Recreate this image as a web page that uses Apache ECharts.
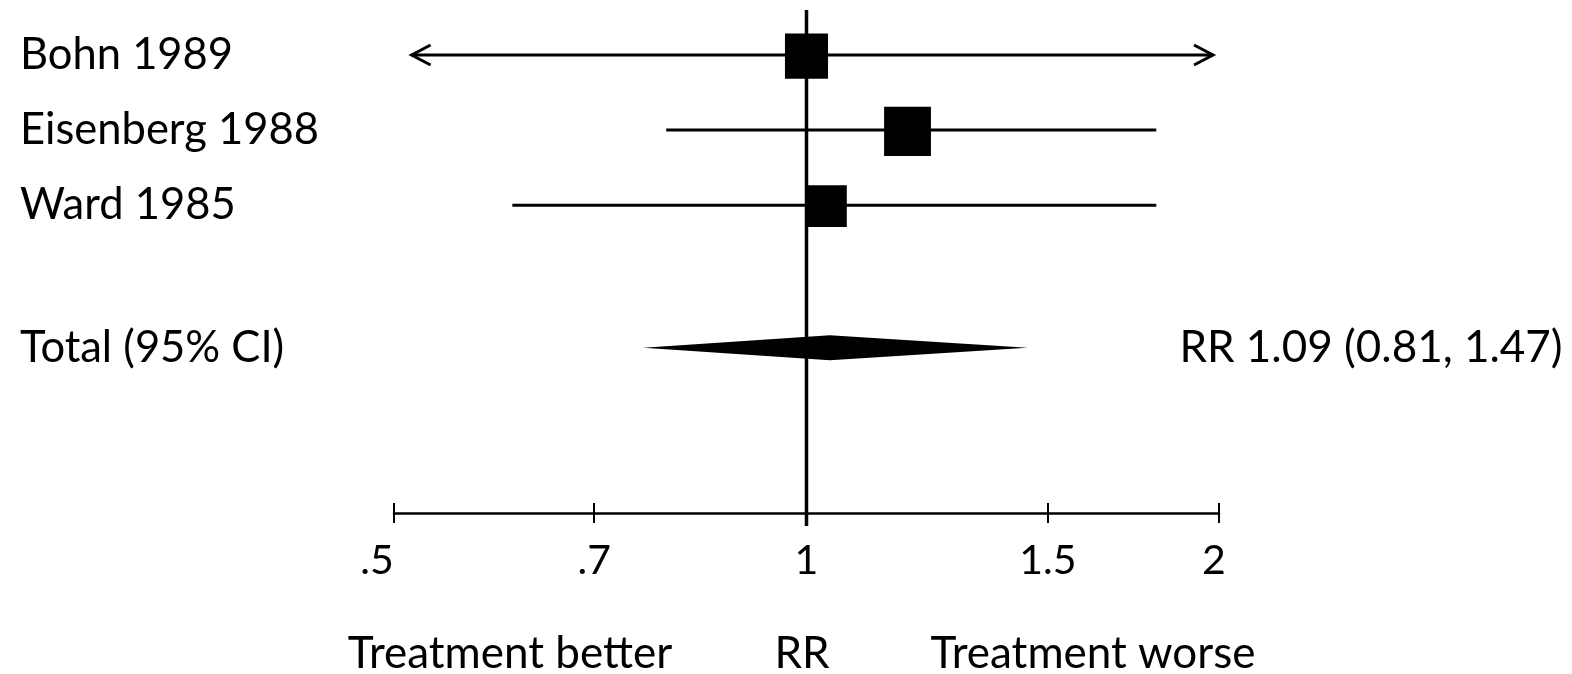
<!DOCTYPE html>
<html>
<head>
<meta charset="utf-8">
<script src="https://cdn.jsdelivr.net/npm/echarts@6/dist/echarts.min.js"></script>
<style>
  html, body { margin: 0; padding: 0; background: #fff; }
  #chart { width: 1572px; height: 674px; }
</style>
</head>
<body>
<div id="chart"></div>
<script>
// ---- data ----
const studies = ['Bohn 1989', 'Eisenberg 1988', 'Ward 1985'];
const studyRR = [1.00, 1.185, 1.035];
const studyLow = [0.515, 0.79, 0.61];
const studyHigh = [1.98, 1.80, 1.80];
const studyArrow = [true, false, false];   // CI runs off the scale
const studyWeight = [33, 39, 28];          // % weight (square area)

const totalName = 'Total (95% CI)';
const totalRR = [1.04];
const totalLow = [0.76];
const totalHigh = [1.45];
const totalText = 'RR 1.09 (0.81, 1.47)';

const tickValues = [0.5, 0.7, 1, 1.5, 2];
const tickLabels = ['.5', '.7', '1', '1.5', '2'];
const footLabels = ['Treatment better', 'RR', 'Treatment worse'];

// ---- layout helpers ----
const FONT = 'Lato';
const ln = Math.log;
const xMin = ln(0.5), xMax = ln(2);
const yMin = -0.6, yMax = 6.1;
const totalRow = 3.9;
const rowPos = studies.map((s, i) => i);
const allRowPos = rowPos.concat([totalRow]);
const allRowNames = studies.concat([totalName]);
const lnTicks = tickValues.map(ln);
// small horizontal nudges of tick labels (px, negative = left), as placed in the reference
const tickNudge = [-17, 0, 0, 0, -5];

function nearestIdx(arr, v) {
  let best = 0, d = Infinity;
  arr.forEach((a, i) => { const dd = Math.abs(a - v); if (dd < d) { d = dd; best = i; } });
  return best;
}

const tickRich = {};
tickNudge.forEach((n, i) => {
  tickRich['t' + i] = {
    fontFamily: FONT, fontSize: 41, color: '#000',
    padding: n < 0 ? [0, -2 * n, 0, 0] : [0, 0, 0, 2 * n]
  };
});

const studyData = studies.map((s, i) => [ln(studyLow[i]), ln(studyHigh[i]), ln(studyRR[i]), rowPos[i], studyWeight[i], studyArrow[i] ? 1 : 0]);
const totalData = totalRR.map((v, i) => [ln(totalLow[i]), ln(v), ln(totalHigh[i]), totalRow]);

const chart = echarts.init(document.getElementById('chart'), null, { renderer: 'canvas' });

const option = {
  animation: false,
  backgroundColor: '#ffffff',
  textStyle: { fontFamily: FONT, color: '#000' },
  grid: { left: 394, right: 353, top: 10, bottom: 161, containLabel: false },
  xAxis: [
    {
      type: 'value', min: xMin, max: xMax, position: 'bottom',
      axisLine: { show: true, onZero: false, lineStyle: { color: '#000', width: 2.5 } },
      axisTick: { show: true, inside: false, length: 10, customValues: lnTicks, lineStyle: { color: '#000', width: 2 } },
      axisLabel: {
        show: true, customValues: lnTicks, margin: 27,
        fontFamily: FONT, fontSize: 41, color: '#000',
        rich: tickRich,
        formatter: v => { const i = nearestIdx(lnTicks, v); return '{t' + i + '|' + tickLabels[i] + '}'; }
      },
      splitLine: { show: false }
    },
    {
      type: 'value', min: xMin, max: xMax, position: 'bottom', offset: 0,
      axisLine: { show: false, onZero: false },
      axisTick: { show: true, inside: true, length: 10, customValues: lnTicks, lineStyle: { color: '#000', width: 2 } },
      axisLabel: { show: false },
      splitLine: { show: false }
    }
  ],
  yAxis: [
    {
      type: 'value', inverse: true, min: yMin, max: yMax, position: 'left',
      axisLine: { show: false, onZero: false }, axisTick: { show: false }, splitLine: { show: false },
      axisLabel: {
        show: true, customValues: allRowPos, align: 'left', margin: 374,
        fontFamily: FONT, fontSize: 43.5, color: '#000',
        formatter: v => allRowNames[nearestIdx(allRowPos, v)]
      }
    },
    {
      type: 'value', inverse: true, min: yMin, max: yMax, position: 'right',
      axisLine: { show: false, onZero: false }, axisTick: { show: false }, splitLine: { show: false },
      axisLabel: {
        show: true, customValues: [totalRow], align: 'center', margin: 152,
        fontFamily: FONT, fontSize: 44, color: '#000',
        formatter: () => totalText
      }
    }
  ],
  graphic: [
    { type: 'text', x: 510, y: 654, style: { text: footLabels[0], font: '44px ' + FONT, fill: '#000', align: 'center', verticalAlign: 'middle' } },
    { type: 'text', x: 802, y: 654, style: { text: footLabels[1], font: '44px ' + FONT, fill: '#000', align: 'center', verticalAlign: 'middle' } },
    { type: 'text', x: 1093, y: 654, style: { text: footLabels[2], font: '44px ' + FONT, fill: '#000', align: 'center', verticalAlign: 'middle' } }
  ],
  series: [
    {
      // reference line at RR = 1
      type: 'custom', xAxisIndex: 0, yAxisIndex: 0, clip: false, z: 3,
      data: [[0, yMin, yMax]],
      encode: { x: 0, y: [1, 2] },
      renderItem: (params, api) => {
        const a = api.coord([api.value(0), api.value(1)]);
        const b = api.coord([api.value(0), api.value(2)]);
        return { type: 'line', shape: { x1: a[0], y1: a[1], x2: b[0], y2: b[1] + 13 }, style: { stroke: '#000', lineWidth: 3.5 } };
      }
    },
    {
      // individual studies
      type: 'custom', xAxisIndex: 0, yAxisIndex: 0, clip: false, z: 4,
      data: studyData,
      encode: { x: [0, 1, 2], y: 3 },
      renderItem: (params, api) => {
        const y = api.value(3);
        const p1 = api.coord([api.value(0), y]);
        const p2 = api.coord([api.value(1), y]);
        const pc = api.coord([api.value(2), y]);
        const s = 7.5 * Math.sqrt(api.value(4));
        const children = [
          { type: 'line', shape: { x1: p1[0], y1: p1[1], x2: p2[0], y2: p2[1] }, style: { stroke: '#000', lineWidth: 3 } },
          { type: 'rect', shape: { x: pc[0] - s / 2, y: pc[1] - s / 2, width: s, height: s * 1.05 }, style: { fill: '#000' } }
        ];
        if (api.value(5) === 1) {
          const aw = 19, ah = 10;
          children.push({ type: 'polyline', shape: { points: [[p1[0] + aw, p1[1] - ah], [p1[0], p1[1]], [p1[0] + aw, p1[1] + ah]] }, style: { stroke: '#000', lineWidth: 3, fill: null } });
          children.push({ type: 'polyline', shape: { points: [[p2[0] - aw, p2[1] - ah], [p2[0], p2[1]], [p2[0] - aw, p2[1] + ah]] }, style: { stroke: '#000', lineWidth: 3, fill: null } });
        }
        return { type: 'group', children };
      }
    },
    {
      // pooled estimate diamond
      type: 'custom', xAxisIndex: 0, yAxisIndex: 0, clip: false, z: 4,
      data: totalData,
      encode: { x: [0, 1, 2], y: 3 },
      renderItem: (params, api) => {
        const y = api.value(3);
        const l = api.coord([api.value(0), y]);
        const c = api.coord([api.value(1), y]);
        const r = api.coord([api.value(2), y]);
        const h = 12.5;
        return { type: 'polygon', shape: { points: [[l[0], l[1]], [c[0], c[1] - h], [r[0], r[1]], [c[0], c[1] + h]] }, style: { fill: '#000' } };
      }
    }
  ]
};

chart.setOption(option);
</script>
</body>
</html>
